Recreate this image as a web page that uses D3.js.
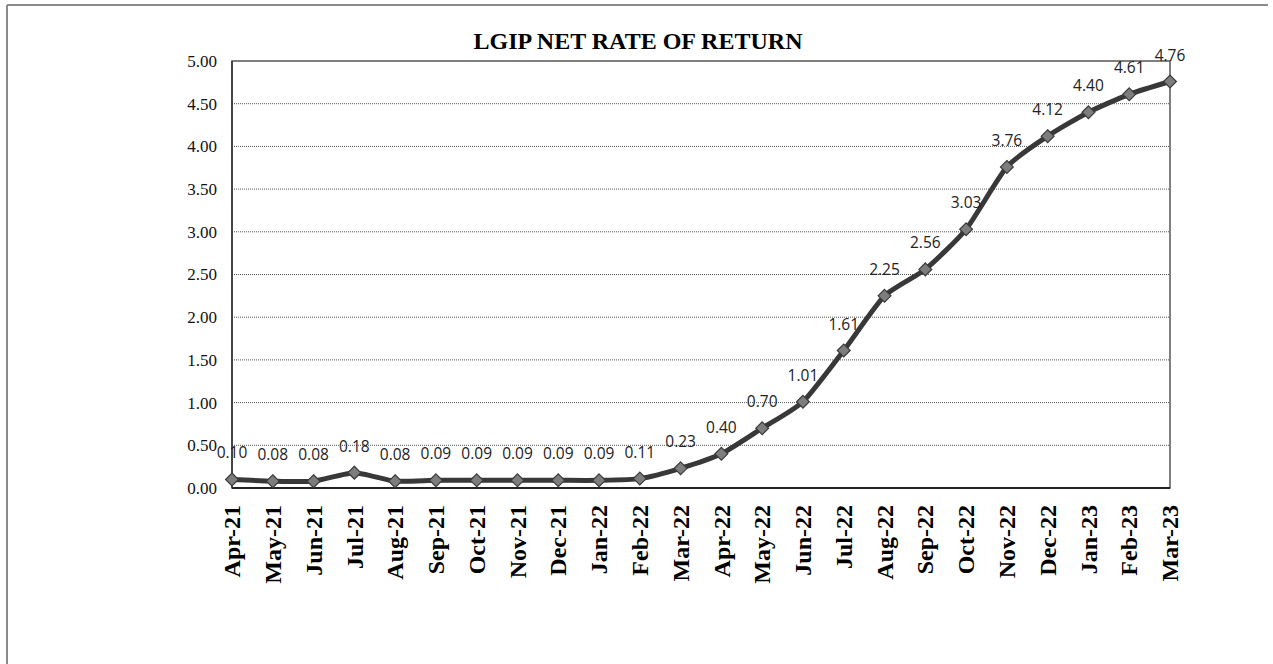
<!DOCTYPE html>
<html>
<head>
<meta charset="utf-8">
<script src="https://cdn.jsdelivr.net/npm/d3@7"></script>
<style>
	body { margin: 0; background: #fff; }
	.grid line { stroke: #555; stroke-width: 1; stroke-dasharray: 1,1; }
	.ylab { font-family: "Liberation Serif", serif; font-size: 17px; fill: #111; }
	.xlab { font-family: "Liberation Serif", serif; font-size: 24px; font-weight: bold; fill: #000; }
	.vlab { font-family: "Open Sans", sans-serif; font-size: 15.5px; fill: #222; }
	.title { font-family: "Liberation Serif", serif; font-size: 24px; font-weight: bold; fill: #000; }
</style>
</head>
<body>
<div id="chart"></div>
<script>
var months = ["Apr-21", "May-21", "Jun-21", "Jul-21", "Aug-21", "Sep-21", "Oct-21", "Nov-21",
	"Dec-21", "Jan-22", "Feb-22", "Mar-22", "Apr-22", "May-22", "Jun-22", "Jul-22",
	"Aug-22", "Sep-22", "Oct-22", "Nov-22", "Dec-22", "Jan-23", "Feb-23", "Mar-23"];

var rates = [0.10, 0.08, 0.08, 0.18, 0.08, 0.09, 0.09, 0.09,
	0.09, 0.09, 0.11, 0.23, 0.40, 0.70, 1.01, 1.61,
	2.25, 2.56, 3.03, 3.76, 4.12, 4.40, 4.61, 4.76];

var yTicks = [0, 0.5, 1, 1.5, 2, 2.5, 3, 3.5, 4, 4.5, 5];

var title = "LGIP NET RATE OF RETURN";

function rateChart() {
	var margin = {top: 61, right: 103, bottom: 176, left: 232},
		width = 1273,
		height = 664;

	function chart(selection) {
		selection.each(function(data) {
			var w = width - margin.left - margin.right,
				h = height - margin.top - margin.bottom;

			var svg = d3.select(this)
				.append("svg")
				.attr("width", width)
				.attr("height", height);

			// scanned page edges
			svg.append("line")
				.attr("x1", 7).attr("y1", 5).attr("x2", 1268).attr("y2", 5)
				.attr("stroke", "#8a8a8a").attr("stroke-width", 2);
			svg.append("line")
				.attr("x1", 7).attr("y1", 5).attr("x2", 7).attr("y2", height)
				.attr("stroke", "#8a8a8a").attr("stroke-width", 2);

			svg.append("text")
				.attr("class", "title")
				.attr("x", 638)
				.attr("y", 49)
				.attr("text-anchor", "middle")
				.text(title);

			var g = svg.append("g")
				.attr("transform", "translate(" + margin.left + "," + margin.top + ")");

			var x = d3.scalePoint()
				.domain(data.map(function(d) { return d.month; }))
				.range([0, w]);

			var y = d3.scaleLinear()
				.domain([0, 5])
				.range([h, 0]);

			g.append("g")
				.attr("class", "grid")
				.selectAll("line")
				.data(yTicks.filter(function(t) { return t > 0 && t < 5; }))
				.enter()
				.append("line")
				.attr("x1", 0)
				.attr("x2", w)
				.attr("y1", function(d) { return y(d); })
				.attr("y2", function(d) { return y(d); });

			// plot frame
			g.append("rect")
				.attr("width", w)
				.attr("height", h)
				.attr("fill", "none")
				.attr("stroke", "#555")
				.attr("stroke-width", 1.5);

			g.append("line")
				.attr("x1", 0).attr("x2", w)
				.attr("y1", h).attr("y2", h)
				.attr("stroke", "#222").attr("stroke-width", 2);
			g.append("line")
				.attr("x1", 0).attr("x2", 0)
				.attr("y1", 0).attr("y2", h)
				.attr("stroke", "#333").attr("stroke-width", 1.5);

			g.selectAll("text.ylab")
				.data(yTicks)
				.enter()
				.append("text")
				.attr("class", "ylab")
				.attr("x", -15)
				.attr("y", function(d) { return y(d); })
				.attr("dy", "0.35em")
				.attr("text-anchor", "end")
				.text(function(d) { return d3.format(".2f")(d); });

			g.selectAll("text.xlab")
				.data(data)
				.enter()
				.append("text")
				.attr("class", "xlab")
				.attr("transform", function(d) {
					return "translate(" + x(d.month) + "," + (h + 17) + ") rotate(-90)";
				})
				.attr("dy", "0.34em")
				.attr("text-anchor", "end")
				.text(function(d) { return d.month; });

			var line = d3.line()
				.x(function(d) { return x(d.month); })
				.y(function(d) { return y(d.rate); })
				.curve(d3.curveCardinal.tension(0.4));

			g.append("path")
				.datum(data)
				.attr("d", line)
				.attr("fill", "none")
				.attr("stroke", "#383838")
				.attr("stroke-width", 5);

			g.selectAll("path.dot")
				.data(data)
				.enter()
				.append("path")
				.attr("class", "dot")
				.attr("d", d3.symbol().type(d3.symbolDiamond2).size(105))
				.attr("transform", function(d) {
					return "translate(" + x(d.month) + "," + y(d.rate) + ")";
				})
				.attr("fill", "#7d7d7d")
				.attr("stroke", "#3a3a3a")
				.attr("stroke-width", 1.2);

			g.selectAll("text.vlab")
				.data(data)
				.enter()
				.append("text")
				.attr("class", "vlab")
				.attr("x", function(d) { return x(d.month); })
				.attr("y", function(d) { return y(d.rate) - 21; })
				.attr("text-anchor", "middle")
				.text(function(d) { return d3.format(".2f")(d.rate); });
		});
	}

	chart.width = function(_) {
		if (!arguments.length) return width;
		width = _;
		return chart;
	}

	chart.height = function(_) {
		if (!arguments.length) return height;
		height = _;
		return chart;
	}

	return chart;
}

var data = months.map(function(m, i) { return {month: m, rate: rates[i]}; });

d3.select("#chart")
	.datum(data)
	.call(rateChart());
</script>
</body>
</html>
